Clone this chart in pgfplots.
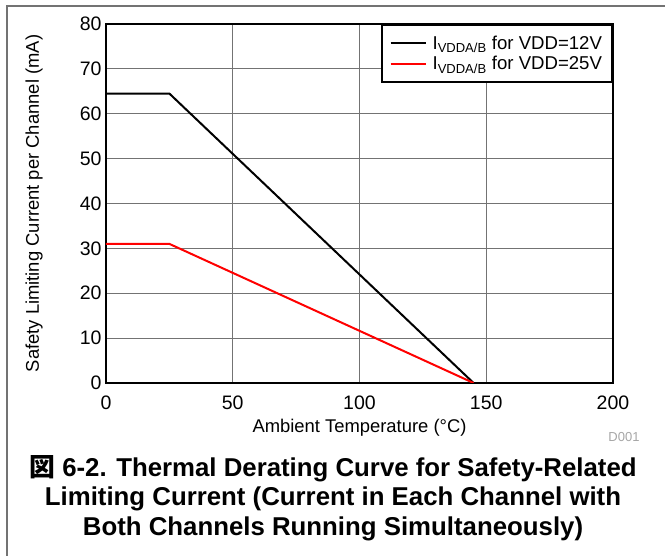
\documentclass[border=0pt]{standalone}
\usepackage{fontspec}
\setmainfont{Liberation Sans}
\newfontfamily\cjk{Noto Sans CJK JP}
\usepackage{pgfplots}
\pgfplotsset{compat=1.18}

\begin{document}
\begin{tikzpicture}[x=1pt,y=1pt]
  \useasboundingbox (0,0) rectangle (665,556);
  \draw[black!55, line width=1.2pt] (7,0) -- (7,550) -- (665,550);

  \begin{axis}[
      at={(106pt,173pt)}, anchor=south west,
      scale only axis,
      width=507pt, height=359pt,
      xmin=0, xmax=200, ymin=0, ymax=80,
      xtick={0,50,...,200}, ytick={0,10,...,80},
      grid=major,
      grid style={black!55, line width=0.8pt},
      axis line style={line width=2pt},
      major tick length=0pt,
      /pgf/number format/assume math mode=true,
      tick label style={font=\fontsize{19.5}{19.5}\selectfont},
      xticklabel style={yshift=-9pt},
      yticklabel style={xshift=-1pt},
      label style={font=\fontsize{18.4}{18.4}\selectfont},
      xlabel={Ambient Temperature (°C)},
      ylabel={Safety Limiting Current per Channel (mA)},
      xlabel style={at={(axis description cs:0.5,-0.125)}, anchor=center},
      ylabel style={at={(axis description cs:-0.142,0.5)}, anchor=center},
      legend style={at={(1,1)}, anchor=north east, draw=black, line width=2pt,
        font=\fontsize{18.6}{18.6}\selectfont, inner xsep=8pt, inner ysep=9pt,
        row sep=1.5pt},
      legend cell align=left,
      legend image code/.code={\draw[#1] (0pt,0pt) -- (35pt,0pt); \path (39pt,0pt);},
    ]
    \addplot[black, line width=2pt] coordinates {(0,64.5) (25,64.5) (145,0)};
    \addlegendentry{I\textsubscript{VDDA/B} for VDD=12V}
    \addplot[red, line width=2pt] coordinates {(0,31) (25,31) (145,0)};
    \addlegendentry{I\textsubscript{VDDA/B} for VDD=25V}
  \end{axis}

  \node[text=black!35, font=\fontsize{13}{13}\selectfont] at (624,119) {D001};
  \node[align=center, font=\bfseries\fontsize{25.8}{29.5}\selectfont] at (333,58)
    {{\cjk 図} 6-2. Thermal Derating Curve for Safety-Related\\
     Limiting Current (Current in Each Channel with\\
     Both Channels Running Simultaneously)};
\end{tikzpicture}
\end{document}
